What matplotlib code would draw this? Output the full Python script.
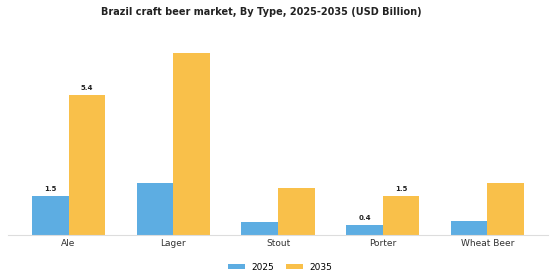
import numpy as np
import matplotlib.pyplot as plt

categories = ['Ale', 'Lager', 'Stout', 'Porter', 'Wheat Beer']
values_2025 = [1.5, 2.0, 0.5, 0.4, 0.55]
values_2035 = [5.4, 7.0, 1.8, 1.5, 2.0]
labelled = ['Ale', 'Porter']

c25 = '#5DADE2'
c35 = '#F9C04A'

fig = plt.figure(figsize=(5.6, 2.8), dpi=100)
ax = fig.add_axes([0.014, 0.161, 0.965, 0.732])

x = np.arange(len(categories))
w = 0.35
b1 = ax.bar(x - w / 2, values_2025, w, color=c25, label='2025')
b2 = ax.bar(x + w / 2, values_2035, w, color=c35, label='2035')

for i, cat in enumerate(categories):
    if cat in labelled:
        ax.text(x[i] - w / 2, values_2025[i] + 0.15, '%.1f' % values_2025[i],
                ha='center', va='bottom', fontsize=5, fontweight='bold', color='#222222')
        ax.text(x[i] + w / 2, values_2035[i] + 0.15, '%.1f' % values_2035[i],
                ha='center', va='bottom', fontsize=5, fontweight='bold', color='#222222')

ax.set_xlim(-0.58, 4.58)
ax.set_ylim(0, 7.9)
ax.set_xticks(x)
ax.set_xticklabels(categories, fontsize=6.5, color='#333333')
ax.tick_params(axis='x', length=0, pad=3)
ax.set_yticks([])
for s in ['top', 'right', 'left']:
    ax.spines[s].set_visible(False)
ax.spines['bottom'].set_color('#dddddd')

fig.suptitle('Brazil craft beer market, By Type, 2025-2035 (USD Billion)',
             fontsize=7, fontweight='bold', color='#222222', x=0.466, y=0.975)
fig.legend(handles=[b1, b2], labels=['2025', '2035'], loc='lower center',
           ncol=2, frameon=False, fontsize=6.5, bbox_to_anchor=(0.5, 0.0),
           handlelength=1.9, handleheight=0.5, handletextpad=0.7, columnspacing=1.3)

fig.savefig('out.png', dpi=100)
